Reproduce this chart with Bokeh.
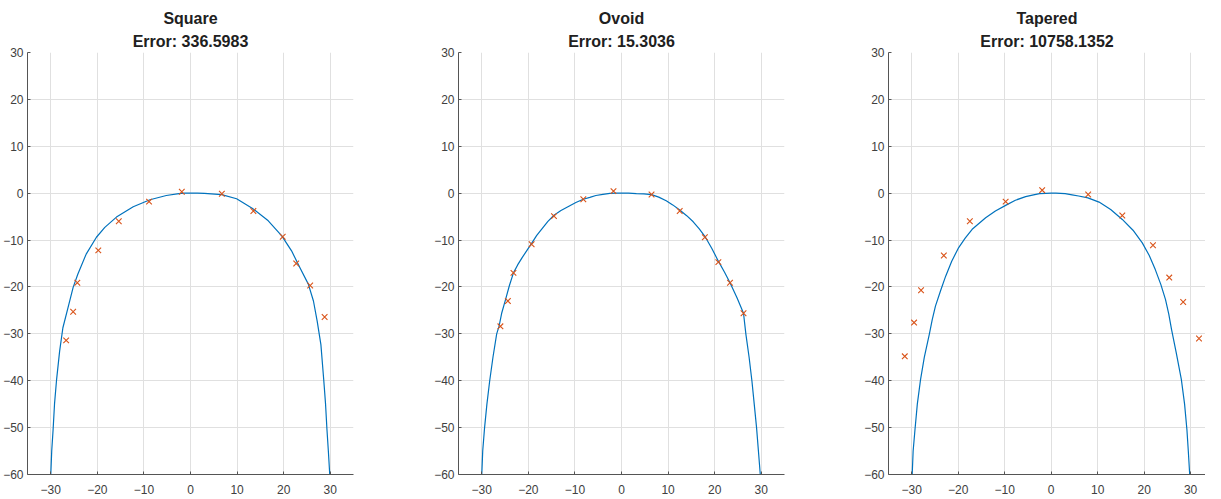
from bokeh.plotting import figure
from bokeh.layouts import row
from bokeh.models import Title, FixedTicker, Range1d
from bokeh.embed import file_html
from bokeh.resources import INLINE

titles = ["Square", "Ovoid", "Tapered"]
errors = ["Error: 336.5983", "Error: 15.3036", "Error: 10758.1352"]
x_ticks = [-30, -20, -10, 0, 10, 20, 30]
y_ticks = [-60, -50, -40, -30, -20, -10, 0, 10, 20, 30]

# fitted curves
square_cx = [-30.0, -29.8, -29.5, -29.2, -28.75, -28.1, -27.4, -26.3, -25.2, -24.2, -22.4, -20.2, -18.4, -15.9,
             -12.3, -8.7, -5.2, -2.5, -1.2, 0.0,
             1.5, 3.0, 6.7, 9.9, 13.5, 16.7, 19.6, 21.7, 23.5, 25.3, 26.4, 27.2, 28.0, 28.6, 29.0, 29.3, 29.6, 29.9]
square_cy = [-60.0, -55.0, -50.4, -45.0, -39.7, -33.7, -28.7, -24.4, -20.1, -17.3, -13.0, -9.4, -7.3, -5.1,
             -2.9, -1.4, -0.5, -0.1, 0.0, 0.0,
             0.0, -0.05, -0.3, -1.2, -3.4, -5.9, -9.1, -12.3, -15.9, -19.4, -23.0, -27.3, -32.3, -39.7, -45.0, -50.4,
             -55.0, -60.0]
ovoid_cx = [-30.0, -29.8, -29.4, -28.9, -28.3, -27.6, -26.8, -26.3, -25.7, -24.9, -24.1, -23.2, -22.3, -21.3, -20.3,
            -19.3, -18.2, -17.0, -15.8, -14.5, -13.0, -11.3, -9.8, -8.2, -6.8, -5.5, -4.0, -2.5, -1.2, 0.0,
            1.5, 3.2, 4.8, 6.45, 8.0, 9.6, 11.0, 12.5, 14.0, 15.4, 16.7, 17.9, 19.4, 20.8, 22.1, 23.3, 24.8,
            26.2, 26.7, 27.4, 28.0, 28.5, 29.0, 29.4, 29.8]
ovoid_cy = [-60.0, -55.0, -50.0, -45.0, -40.0, -35.0, -30.0, -28.4, -25.5, -22.7, -19.8, -17.0, -15.3, -13.7, -12.2,
            -10.7, -9.0, -7.5, -6.0, -4.7, -3.7, -2.8, -2.0, -1.3, -0.9, -0.5, -0.25, -0.05, 0.0, 0.0,
            0.0, -0.1, -0.15, -0.3, -0.85, -1.6, -2.5, -3.6, -4.8, -6.1, -7.6, -9.2, -11.8, -14.5, -16.8, -19.1, -22.3,
            -25.6, -30.0, -35.0, -40.0, -45.0, -50.0, -55.0, -60.0]
tapered_cx = [-29.9, -29.7, -29.3, -28.8, -28.1, -27.3, -26.2, -25.6, -24.9, -23.8, -22.7, -21.4, -19.9, -18.5,
              -17.0, -14.1, -12.0, -9.8, -7.7, -5.5, -3.8, -2.5, -1.2, 0.0,
              1.0, 3.0, 4.5, 5.9, 7.9, 10.3, 12.8, 15.3, 17.6, 19.6, 21.1, 22.4, 23.6, 24.6, 25.3, 25.9, 26.9,
              28.0, 28.7, 29.2, 29.5, 29.8]
tapered_cy = [-60.0, -55.0, -50.4, -45.0, -39.7, -35.0, -30.0, -27.0, -24.1, -20.8, -17.7, -14.5, -11.6, -9.6,
              -7.7, -5.25, -3.8, -2.6, -1.5, -0.75, -0.35, -0.1, -0.03, 0.0,
              0.0, -0.1, -0.35, -0.6, -1.0, -1.9, -3.5, -5.6, -7.9, -10.6, -13.3, -16.3, -19.5, -22.7, -25.8, -29.1, -34.0,
              -39.7, -45.0, -50.4, -55.0, -60.0]

square_px = [-26.7, -25.2, -24.3, -19.8, -15.4, -8.9, -1.87, 6.73, 13.5, 19.8, 22.7, 25.7, 28.8]
square_py = [-31.4, -25.3, -19.1, -12.2, -6.0, -1.8, 0.3, -0.13, -3.8, -9.3, -15.0, -19.7, -26.4]
ovoid_px = [-26.0, -24.4, -23.2, -19.3, -14.5, -8.2, -1.72, 6.45, 12.5, 17.9, 20.8, 23.3, 26.2]
ovoid_py = [-28.4, -23.0, -17.0, -10.9, -4.9, -1.3, 0.43, -0.28, -3.8, -9.4, -14.7, -19.1, -25.6]
tapered_px = [-31.5, -29.5, -28.0, -23.1, -17.5, -9.8, -1.94, 7.96, 15.3, 21.9, 25.4, 28.4, 31.8]
tapered_py = [-34.8, -27.6, -20.7, -13.3, -6.0, -1.8, 0.64, -0.28, -4.75, -11.1, -18.0, -23.2, -31.0]

curves = [(square_cx, square_cy), (ovoid_cx, ovoid_cy), (tapered_cx, tapered_cy)]
points = [(square_px, square_py), (ovoid_px, ovoid_py), (tapered_px, tapered_py)]

FONT = "Liberation Sans"
BLUE = "#0072BD"
ORANGE = "#D95319"

frame_widths = [326, 326, 317]
x_right = [35, 35, 33.2]
border_right = [78, 77, 0]

figs = []
for i in range(3):
    p = figure(frame_width=frame_widths[i], frame_height=422,
               x_range=Range1d(-35, x_right[i]), y_range=Range1d(-60, 30),
               output_backend="svg", toolbar_location=None,
               min_border_left=27, min_border_right=border_right[i],
               min_border_top=52, min_border_bottom=22,
               background_fill_color="white", border_fill_color="white")
    p.title.text = titles[i]
    p.title.text_font = FONT
    p.title.text_font_size = "16px"
    p.title.text_font_style = "bold"
    p.title.text_color = "#202020"
    p.title.align = "center"
    p.title.standoff = 1
    t2 = Title(text=errors[i], text_font=FONT, text_font_size="16px", text_font_style="bold",
               text_color="#202020", align="center", standoff=6)
    p.add_layout(t2, "above")
    p.outline_line_color = None

    p.xaxis.ticker = FixedTicker(ticks=x_ticks)
    p.yaxis.ticker = FixedTicker(ticks=y_ticks)
    p.xgrid.ticker = FixedTicker(ticks=x_ticks)
    p.ygrid.ticker = FixedTicker(ticks=y_ticks)
    for g in (p.xgrid, p.ygrid):
        g.grid_line_color = "#E0E0E0"
        g.grid_line_width = 1
    for ax in (p.xaxis, p.yaxis):
        ax.axis_line_color = "#555555"
        ax.axis_line_width = 1
        ax.major_tick_line_color = "#555555"
        ax.major_tick_in = 3
        ax.major_tick_out = 0
        ax.minor_tick_line_color = None
        ax.major_label_text_font = FONT
        ax.major_label_text_font_size = "12px"
        ax.major_label_text_color = "#404040"
    p.xaxis.major_label_standoff = 10
    p.yaxis.major_label_standoff = 4

    cx, cy = curves[i]
    p.line(cx, cy, line_color=BLUE, line_width=1.2)
    mx, my = points[i]
    p.scatter(mx, my, marker="x", size=8, line_color=ORANGE, line_width=1.1)
    figs.append(p)

layout = row(*figs, spacing=0)
open("out.html", "w").write(file_html(layout, INLINE))
